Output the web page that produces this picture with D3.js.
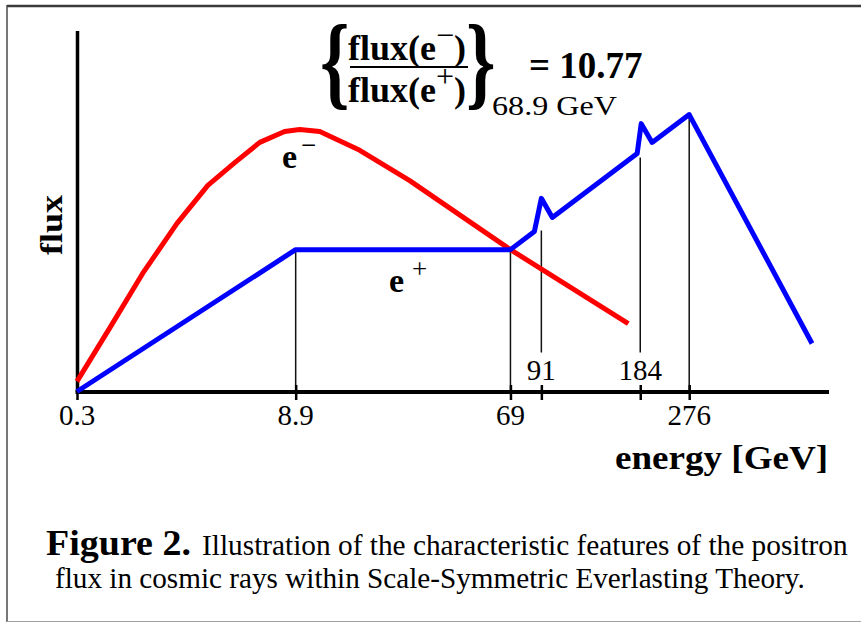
<!DOCTYPE html>
<html>
<head>
<meta charset="utf-8">
<script src="https://cdn.jsdelivr.net/npm/d3@7/dist/d3.min.js"></script>
<style>
  html, body { margin: 0; padding: 0; background: #fff; }
  svg { display: block; }
  text { font-family: "Liberation Serif", "DejaVu Serif", serif; fill: #000; }
</style>
</head>
<body>
<script>
// ---------------- DATA ----------------
const tickEnergies = [0.3, 8.9, 69, 91, 184, 276];
const tickLabelsBelow = ["0.3", "8.9", "69", "276"];
const tickEnergiesBelow = [0.3, 8.9, 69, 276];
const tickLabelsAbove = ["91", "184"];
const tickEnergiesAbove = [91, 184];

// electron flux (red), arbitrary units
const electronEnergy = [0.3, 0.5, 0.83, 1.41, 2.28, 3.46, 5.1, 7.5, 9.25, 11.2, 16.4, 26.4, 48.0, 69, 169];
const electronFlux   = [2.8, 17.7, 32.7, 46.5, 57.1, 63.4, 69.0, 72.0, 72.6, 72.0, 66.8, 58.4, 46.5, 39.3, 18.8];

// positron flux (blue), arbitrary units
const positronEnergy = [0.3, 8.9, 69, 85.5, 91, 98.4, 180, 185.5, 203, 276, 546];
const positronFlux   = [0, 39.3, 39.3, 44.3, 53.5, 48.2, 65.9, 74.2, 69.0, 76.7, 13.3];

// vertical guide lines
const guideEnergy  = [8.9, 69, 91, 184, 276];
const guideTop     = [39.3, 39.3, 44.6, 64.8, 76.7];
const guideBottom  = [0, 0, 10.8, 10.8, 0];

const ratioValue = "10.77";
const ratioEnergy = "68.9 GeV";

// ---------------- LAYOUT ----------------
const W = 861, H = 623;
const mLeft = 77, mRight = 829, mBottom = 392, mTop = 30;
const axisFractions = [0, 0.2908, 0.5764, 0.6175, 0.749, 0.8141, 1.0];
const axisEnd = 600;

const svg = d3.select("body").append("svg").attr("width", W).attr("height", H);

// fit a text to a given width by horizontal scaling
function fitText(t, tx, ty, width, extra) {
  const len = t.node().getComputedTextLength();
  const s = width / len;
  t.attr("x", 0).attr("y", 0)
   .attr("transform", `translate(${tx},${ty}) ${extra || ""} scale(${s},1)`);
  return t;
}

const x = d3.scaleLog()
  .domain([...tickEnergies, axisEnd])
  .range(axisFractions.map(f => mLeft + f * (mRight - mLeft)));
const y = d3.scaleLinear().domain([0, 100]).range([mBottom - 0.5, mTop + 0.5]);

// frame
svg.append("line").attr("x1", 7).attr("x2", W).attr("y1", 6).attr("y2", 6)
  .attr("stroke", "#3a3a3a").attr("stroke-width", 2.5);
svg.append("line").attr("x1", 7).attr("x2", 7).attr("y1", 5).attr("y2", 622)
  .attr("stroke", "#4a4a4a").attr("stroke-width", 1.5);
svg.append("line").attr("x1", 7).attr("x2", W).attr("y1", 621.5).attr("y2", 621.5)
  .attr("stroke", "#a0a0a0").attr("stroke-width", 1.2);

// guide lines
svg.append("g").selectAll("line").data(guideEnergy).join("line")
  .attr("x1", d => x(d)).attr("x2", d => x(d))
  .attr("y1", (d, i) => y(guideTop[i])).attr("y2", (d, i) => y(guideBottom[i]))
  .attr("stroke", "#111").attr("stroke-width", 1.5);

// y axis
const yAxis = d3.axisLeft(y).tickValues([]).tickSizeOuter(0);
svg.append("g").attr("transform", `translate(${mLeft},0)`).call(yAxis)
  .call(g => g.select(".domain").attr("stroke", "#000").attr("stroke-width", 3.5));

// x axis
const xAxis = d3.axisBottom(x).tickValues(tickEnergies).tickSize(15).tickSizeOuter(0).tickFormat("");
svg.append("g").attr("transform", `translate(0,${mBottom - 7})`).call(xAxis)
  .call(g => g.select(".domain").remove())
  .call(g => g.selectAll(".tick line").attr("stroke", "#000").attr("stroke-width", 2.5));
svg.append("line").attr("x1", mLeft - 1.5).attr("x2", mRight).attr("y1", mBottom).attr("y2", mBottom)
  .attr("stroke", "#000").attr("stroke-width", 4);

// tick labels
svg.append("g").selectAll("text").data(tickEnergiesBelow).join("text")
  .attr("x", d => x(d)).attr("y", 425)
  .attr("text-anchor", "middle").attr("font-size", 29)
  .text((d, i) => tickLabelsBelow[i]);
svg.append("g").selectAll("text").data(tickEnergiesAbove).join("text")
  .attr("x", d => x(d)).attr("y", 380)
  .attr("text-anchor", "middle").attr("font-size", 29)
  .text((d, i) => tickLabelsAbove[i]);

// curves
const line = d3.line().x(d => x(d[0])).y(d => y(d[1])).curve(d3.curveLinear);
svg.append("path").datum(electronEnergy.map((e, i) => [e, electronFlux[i]]))
  .attr("d", line).attr("fill", "none").attr("stroke", "#ff0000")
  .attr("stroke-width", 5).attr("stroke-linejoin", "round");
svg.append("path").datum(positronEnergy.map((e, i) => [e, positronFlux[i]]))
  .attr("d", line).attr("fill", "none").attr("stroke", "#0000ff")
  .attr("stroke-width", 5).attr("stroke-linejoin", "round");

// axis titles
fitText(svg.append("text").attr("text-anchor", "end")
  .attr("font-size", 33).attr("font-weight", "bold").text("energy [GeV]"), 828, 469, 213);
fitText(svg.append("text").attr("text-anchor", "middle")
  .attr("font-size", 32).attr("font-weight", "bold").text("flux"), 62, 225, 60, "rotate(-90)");

// curve labels
const lm = svg.append("text").attr("x", 282).attr("y", 168).attr("font-size", 34).attr("font-weight", "bold");
lm.append("tspan").text("e");
lm.append("tspan").attr("dy", -14).attr("dx", 4).attr("font-size", 27).attr("font-weight", "normal").text("\u2212");
const lp = svg.append("text").attr("x", 389).attr("y", 292).attr("font-size", 34).attr("font-weight", "bold");
lp.append("tspan").text("e");
lp.append("tspan").attr("dy", -14).attr("dx", 8).attr("font-size", 27).attr("font-weight", "normal").text("+");

// formula
svg.append("text").attr("transform", "translate(320,96) scale(0.72,1)")
  .attr("font-size", 104).attr("font-weight", "bold").text("{");
svg.append("text").attr("transform", "translate(466,96) scale(0.72,1)")
  .attr("font-size", 104).attr("font-weight", "bold").text("}");
const num = svg.append("text").attr("x", 348).attr("y", 60).attr("font-size", 36).attr("font-weight", "bold");
num.append("tspan").text("flux(e");
num.append("tspan").attr("dy", -14).attr("font-size", 32).attr("font-weight", "normal").text("\u2212");
num.append("tspan").attr("dy", 14).text(")");
svg.append("line").attr("x1", 350).attr("x2", 468).attr("y1", 67).attr("y2", 67)
  .attr("stroke", "#000").attr("stroke-width", 2);
const den = svg.append("text").attr("x", 348).attr("y", 102).attr("font-size", 36).attr("font-weight", "bold");
den.append("tspan").text("flux(e");
den.append("tspan").attr("dy", -15).attr("font-size", 32).attr("font-weight", "normal").text("+");
den.append("tspan").attr("dy", 15).text(")");
svg.append("text").attr("x", 529).attr("y", 78).attr("font-size", 37).attr("font-weight", "bold")
  .text("= " + ratioValue);
fitText(svg.append("text").attr("font-size", 28).text(ratioEnergy), 492, 115, 125);

// caption
fitText(svg.append("text").attr("font-size", 35).attr("font-weight", "bold").text("Figure 2."), 46, 555, 145);
fitText(svg.append("text").attr("font-size", 30)
  .text("Illustration of the characteristic features of the positron"), 202, 555, 646);
fitText(svg.append("text").attr("font-size", 30)
  .text("flux in cosmic rays within Scale-Symmetric Everlasting Theory."), 55, 588, 750);
</script>
</body>
</html>
